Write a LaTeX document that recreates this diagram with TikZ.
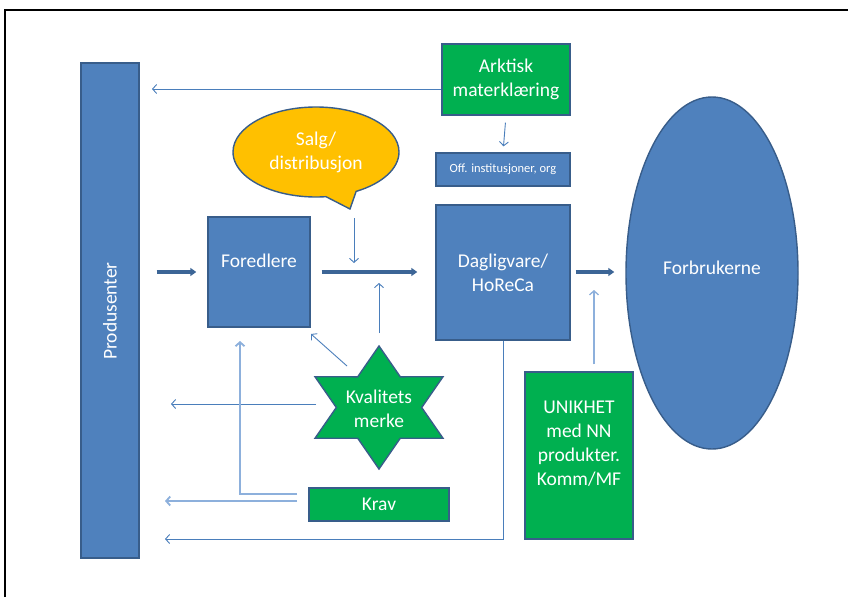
\documentclass[tikz,border=0pt]{standalone}
\usepackage{fontspec}
\setmainfont{Carlito}
\usetikzlibrary{arrows.meta,shapes.geometric,shapes.callouts}
\definecolor{boxblue}{HTML}{4F81BD}
\definecolor{edgeblue}{HTML}{385D8A}
\definecolor{boxgreen}{HTML}{00B050}
\definecolor{bubble}{HTML}{FFC000}
\definecolor{arrblue}{HTML}{4A7EBB}
\definecolor{lightarr}{HTML}{8DB0DC}
\definecolor{thickblue}{HTML}{3C6596}
\tikzset{
  box/.style={draw=edgeblue, line width=1.4pt, inner sep=0pt},
  bluebox/.style={box, fill=boxblue},
  greenbox/.style={box, fill=boxgreen},
  txt/.style={text=white, font=\fontsize{19.5}{24}\selectfont, align=center, inner sep=0pt},
  thinarr/.style={draw=arrblue, line width=0.9pt, -{Straight Barb[length=4pt,width=9pt]}},
  lightline/.style={draw=lightarr, line width=1.8pt},
  lightarrow/.style={lightline, -{Straight Barb[length=4pt,width=9pt]}},
  thickarr/.style={draw=thickblue, line width=3.2pt, -{Triangle[length=6pt,width=8pt]}}
}
\begin{document}
\begin{tikzpicture}[x=1pt,y=-1pt]
\useasboundingbox (0,0) rectangle (848,597);
\fill[white] (0,0) rectangle (848,597);
\draw[line width=2pt] (5,597) -- (5,10) -- (848,10);

% nodes
\node[bluebox, minimum width=58pt, minimum height=495pt] (prod) at (110,310.5) {};
\node[txt, rotate=90] (prodtxt) at (110,311) {Produsenter};

\node[greenbox, minimum width=128pt, minimum height=71pt, txt] (ark) at (506,79.5) {Arktisk\\materklæring};
\node[bluebox, minimum width=134pt, minimum height=33pt, txt, font=\fontsize{12.5}{15}\selectfont] (off) at (503,169.5) {Off. institusjoner, org};

\node[ellipse callout, draw=edgeblue, line width=1.4pt, fill=bubble, minimum width=166pt, minimum height=90pt, inner sep=0pt,
      callout absolute pointer={(350,209)}, callout pointer arc=22, txt] (salg) at (316,152) {Salg/\\distribusjon};

\node[bluebox, minimum width=102pt, minimum height=110pt] (fored) at (259,272) {};
\node[txt] (foredtxt) at (259,261) {Foredlere};

\node[bluebox, minimum width=134pt, minimum height=135pt, txt] (dag) at (503,272.5) {Dagligvare/\\HoReCa};

\node[ellipse, draw=edgeblue, line width=1.4pt, fill=boxblue, minimum width=172pt, minimum height=352pt, inner sep=0pt] (forb) at (712,273) {};
\node[txt] (forbtxt) at (712,268) {Forbrukerne};

\node[greenbox, minimum width=108pt, minimum height=167pt] (unik) at (579,455.5) {};
\node[txt] (uniktxt) at (579,444) {UNIKHET\\med NN\\produkter.\\Komm/MF};

\node[greenbox, minimum width=140pt, minimum height=33pt, txt] (krav) at (379,504.5) {Krav};

% star
\draw[draw=edgeblue, line width=1.4pt, fill=boxgreen, line join=miter]
  (379,346) -- (400.3,376.8) -- (443,376.75) -- (421.7,407.5) -- (443,438.25) -- (400.3,438.2)
  -- (379,469) -- (357.7,438.2) -- (315,438.25) -- (336.3,407.5) -- (315,376.75) -- (357.7,376.8) -- cycle;
\node[txt] (kval) at (379,409) {Kvalitets\\merke};

% coordinates for free ends
\coordinate (a1) at (152,89);
\coordinate (s1) at (354,218);
\coordinate (s2) at (354,263);
\coordinate (k1) at (379,333);
\coordinate (k2) at (379,283);
\coordinate (u2) at (594,290);
\coordinate (st1) at (347,366);
\coordinate (st2) at (311,334);
\coordinate (st3) at (316,404);
\coordinate (st4) at (171,404);
\coordinate (kr1) at (297,494);
\coordinate (kr2) at (240,494);
\coordinate (kr3) at (240,341);
\coordinate (kr4) at (297,501);
\coordinate (kr5) at (165,501);
\coordinate (d1) at (503,539);
\coordinate (d2) at (165,539);

% connectors
\draw[thinarr] (ark.west |- a1) -- (a1);
\draw[thinarr, shorten <=7pt, shorten >=6pt] (ark.south) -- (off.north);
\draw[thickarr, shorten <=17pt, shorten >=11pt] (prod.east |- fored.west) -- (fored.west);
\draw[thickarr, shorten <=11pt, shorten >=18pt] (fored.east) -- (dag.west |- fored.east);
\draw[thickarr, shorten <=5pt, shorten >=11pt] (dag.east |- fored.east) -- (forb.west |- fored.east);
\draw[thinarr] (s1) -- (s2);
\draw[thinarr] (k1) -- (k2);
\draw[lightarrow, line width=1.3pt, shorten <=7pt] (unik.north -| u2) -- (u2);
\draw[thinarr] (st1) -- (st2);
\draw[thinarr] (st3) -- (st4);
\draw[lightarrow] (kr1) -- (kr2) -- (kr3);
\draw[lightarrow] (kr4) -- (kr5);
\draw[thinarr] (dag.south |- dag.south) -- (d1) -- (d2);
\end{tikzpicture}
\end{document}
